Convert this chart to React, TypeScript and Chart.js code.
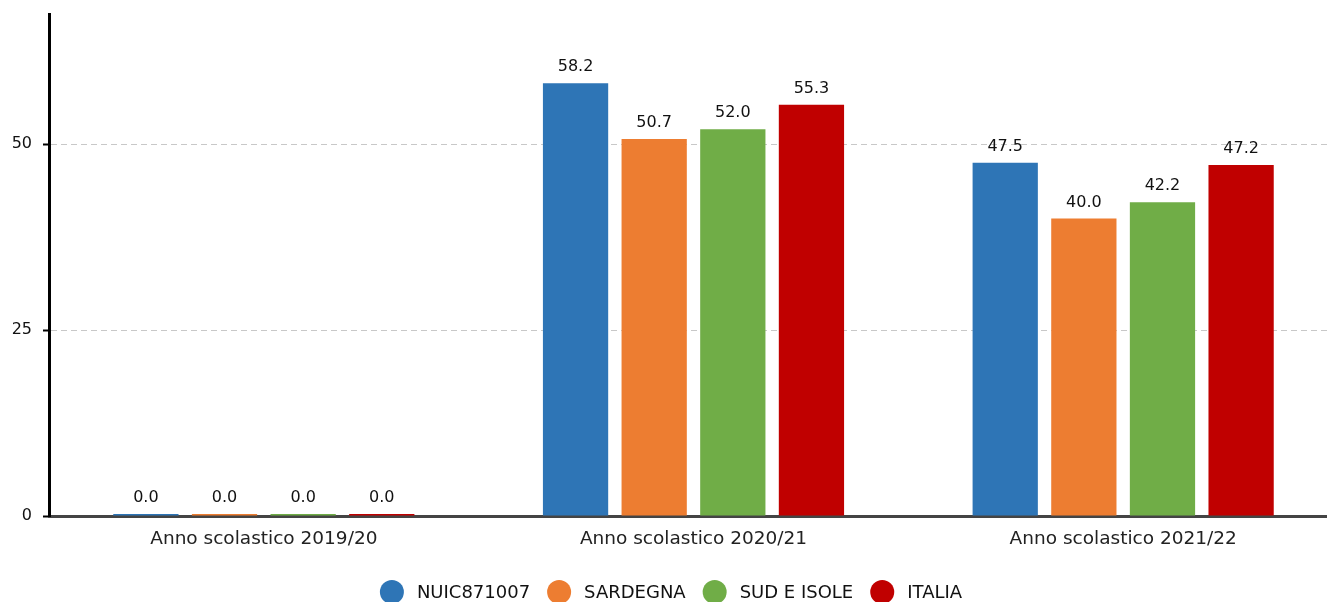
import React, { useEffect, useRef } from "react";
import { Chart, registerables } from "chart.js";

Chart.register(...registerables);

const categories = ["Anno scolastico 2019/20", "Anno scolastico 2020/21", "Anno scolastico 2021/22"];
const seriesNames = ["NUIC871007", "SARDEGNA", "SUD E ISOLE", "ITALIA"];
const nuic = [0.0, 58.2, 47.5];
const sardegna = [0.0, 50.7, 40.0];
const sudIsole = [0.0, 52.0, 42.2];
const italia = [0.0, 55.3, 47.2];
const colors = ["#2E75B6", "#ED7D31", "#70AD47", "#C00000"];
const yTicks = [0, 25, 50];

const FONT = "'DejaVu Sans', sans-serif";

const valueLabels = {
  id: "valueLabels",
  afterDatasetsDraw(chart: any) {
    const ctx = chart.ctx;
    ctx.save();
    ctx.font = `16px ${FONT}`;
    ctx.fillStyle = "#111";
    ctx.textAlign = "center";
    ctx.textBaseline = "bottom";
    chart.data.datasets.forEach((ds: any, i: number) => {
      const meta = chart.getDatasetMeta(i);
      meta.data.forEach((bar: any, j: number) => {
        const v = ds.data[j];
        ctx.fillText(Number(v).toFixed(1), bar.x, bar.y - 8);
      });
    });
    ctx.restore();
  },
};

const circleLegend = {
  id: "circleLegend",
  afterDraw(chart: any) {
    const ctx = chart.ctx;
    const r = 12;
    const textGap = 13;
    const itemGap = 17;
    const cy = chart.chartArea.bottom + 76;
    ctx.save();
    ctx.font = `18px ${FONT}`;
    ctx.textBaseline = "middle";
    ctx.textAlign = "left";
    const items = chart.data.datasets.map((ds: any) => ({
      label: ds.label,
      color: ds.backgroundColor,
      w: ctx.measureText(ds.label).width,
    }));
    const total =
      items.reduce((s: number, it: any) => s + 2 * r + textGap + it.w, 0) + itemGap * (items.length - 1);
    let x = chart.width / 2 + 2 - total / 2;
    items.forEach((it: any) => {
      ctx.fillStyle = it.color;
      ctx.beginPath();
      ctx.arc(x + r, cy, r, 0, Math.PI * 2);
      ctx.fill();
      ctx.fillStyle = "#111";
      ctx.fillText(it.label, x + 2 * r + textGap, cy + 1);
      x += 2 * r + textGap + it.w + itemGap;
    });
    ctx.restore();
  },
};

export default function App() {
  const ref = useRef<HTMLCanvasElement>(null);
  useEffect(() => {
    if (!ref.current) return;
    const values = [nuic, sardegna, sudIsole, italia];
    const chart = new Chart(ref.current, {
      type: "bar",
      data: {
        labels: categories,
        datasets: seriesNames.map((name, i) => ({
          label: name,
          data: values[i],
          backgroundColor: colors[i],
          borderWidth: 0,
          minBarLength: 2,
          categoryPercentage: 0.732,
          barPercentage: 0.83,
        })),
      },
      options: {
        animation: false,
        responsive: false,
        maintainAspectRatio: false,
        layout: { padding: { top: 14, left: 0, right: 0, bottom: 0 } },
        plugins: {
          tooltip: { enabled: false },
          legend: { display: false },
        },
        scales: {
          x: {
            grid: { display: false },
            border: { display: true, color: "#444", width: 3 },
            ticks: { font: { family: FONT, size: 18.5 }, color: "#222", padding: 4 },
            afterFit(scale: any) {
              scale.height = 86;
              scale.paddingLeft = 0;
              scale.paddingRight = 0;
            },
          },
          y: {
            min: 0,
            max: 67.5,
            z: 1,
            afterBuildTicks(scale: any) {
              scale.ticks = yTicks.map((v) => ({ value: v }));
            },
            afterFit(scale: any) {
              scale.width = 49;
              scale.paddingTop = 0;
              scale.paddingBottom = 0;
            },
            border: { display: true, color: "#000", width: 3, dash: [6, 4] },
            grid: {
              color: "#c8c8c8",
              lineWidth: 1,
              tickColor: "#000",
              tickLength: 6,
              tickBorderDash: [],
              tickWidth: 2,
            },
            ticks: { font: { family: FONT, size: 16 }, color: "#111", padding: 11 },
          },
        },
      },
      plugins: [valueLabels, circleLegend],
    });
    return () => chart.destroy();
  }, []);
  return (
    <div style={{ position: "fixed", left: 0, top: 0, width: 1327, height: 602, overflow: "hidden", background: "#fff" }}>
      <canvas ref={ref} width={1338} height={602} style={{ width: 1338, height: 602, display: "block" }} />
    </div>
  );
}
